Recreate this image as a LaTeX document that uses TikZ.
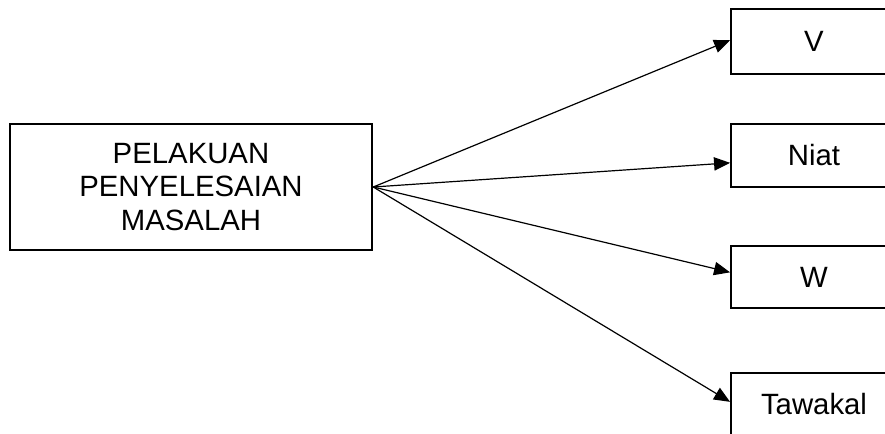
\documentclass[tikz,border=0pt]{standalone}
\usepackage{fontspec}
\setmainfont{Liberation Sans}
\usetikzlibrary{arrows.meta}

\tikzset{
	kotak/.style={draw, line width=1.4pt, inner sep=0pt, align=center,
		font=\fontsize{22}{25.3}\selectfont},
	panah/.style={-{Triangle[length=12pt, width=10pt]}, line width=0.9pt}
}

\begin{document}
\begin{tikzpicture}[x=0.75pt, y=-0.75pt]
		\useasboundingbox (0, 0) rectangle (885, 433);

		\node[kotak, minimum width=272pt, minimum height=94.5pt]	(pelakuan) at (191, 187) {PELAKUAN\\PENYELESAIAN\\MASALAH};

		\node[kotak, minimum width=124.5pt, minimum height=48.75pt]	(v) at (814, 41.5) {V};
		\node[kotak, minimum width=124.5pt, minimum height=47.25pt]	(niat) at (814, 155.5) {Niat};
		\node[kotak, minimum width=124.5pt, minimum height=46.5pt]	(w) at (814, 277) {W};
		\node[kotak, minimum width=124.5pt, minimum height=47.25pt]	(tawakal) at (814, 404.5) {Tawakal};

		\draw[panah]	(pelakuan.east) to ([yshift=1pt]v.west);
		\draw[panah]	(pelakuan.east) to ([yshift=-5.5pt]niat.west);
		\draw[panah]	(pelakuan.east) to ([yshift=3.5pt]w.west);
		\draw[panah]	(pelakuan.east) to ([yshift=2pt]tawakal.west);
	\end{tikzpicture}
\end{document}
